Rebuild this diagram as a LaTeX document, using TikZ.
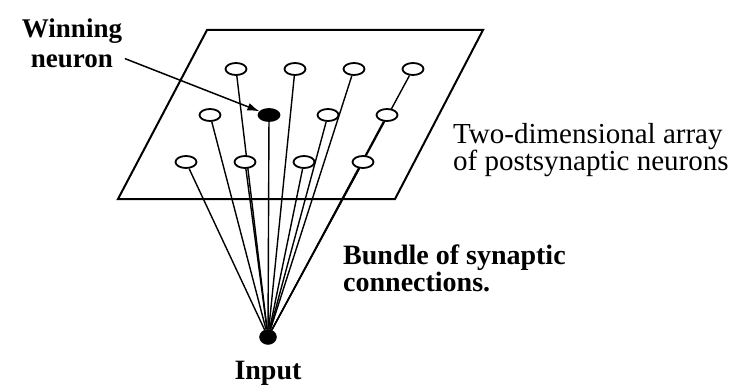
\documentclass[tikz,border=0pt]{standalone}
\usepackage{fontspec}
\setmainfont{Liberation Serif}
\usetikzlibrary{arrows.meta,positioning,shapes.geometric,backgrounds}

\begin{document}
\begin{tikzpicture}[x=1pt,y=-1pt,line cap=round,
  neu/.style={draw,ellipse,line width=1.8pt,minimum width=21pt,minimum height=12pt,inner sep=0pt},
  syn/.style={line width=1.4pt},
  arr/.style={-{Latex[length=12pt,width=8pt]},line width=1.5pt},
  lbl/.style={inner sep=0pt,font=\fontsize{28}{22}\selectfont\bfseries}]
\useasboundingbox (0,0) rectangle (747,385);
\foreach \r/\y/\x in {1/69/236,2/115/210,3/162/186}
  \foreach \c in {1,...,4}{
    \def\f{white}\ifnum\r\c=22 \def\f{black}\fi
    \node[neu,fill=\f] (n\r\c) at (\x+59*\c-59,\y) {};}
\node[draw,ellipse,fill=black,minimum width=17pt,minimum height=15pt,inner sep=0pt] (in) at (268,337) {};
\node[lbl,font=\fontsize{27}{30}\selectfont\bfseries,align=center] (wlab) at (72,43) {Winning\\neuron};
\node[inner sep=0pt,font=\fontsize{29}{22}\selectfont,align=left,anchor=north west] (plane) at (453,123) {Two-dimensional array\\of postsynaptic neurons};
\node[lbl,align=left,anchor=north west] (bund) at (343,245) {Bundle of synaptic\\connections.};
\node[lbl,below=16pt of in] (inlab) {Input};
\begin{scope}[on background layer]
\draw[line width=2pt] (207,30) -- (483,30) -- (395,199) -- (118,199) -- cycle;
\foreach \r in {1,2,3}
  \foreach \c in {1,...,4}
    \draw[syn] (in) -- (n\r\c);
\end{scope}
\draw[arr] ([xshift=3pt,yshift=9pt]wlab.south east) -- (n22);
\end{tikzpicture}
\end{document}
